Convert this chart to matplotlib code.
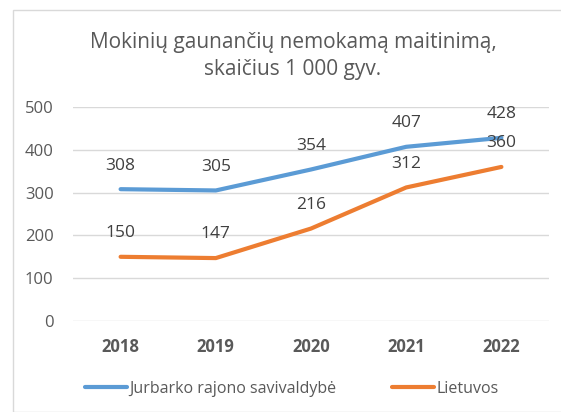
import matplotlib.pyplot as plt
from matplotlib.patches import Rectangle

years = ["2018", "2019", "2020", "2021", "2022"]
jurbarkas = [308, 305, 354, 407, 428]
lietuva = [150, 147, 216, 312, 360]

plt.rcParams['font.family'] = ['Open Sans', 'DejaVu Sans']

fig = plt.figure(figsize=(5.61, 4.12), dpi=100)
ax = fig.add_axes([73/561, 1-321/412, 476/561, 214/412])

# chart border
fig.patches.append(Rectangle((13/561, 0), 1, 1-10/412, transform=fig.transFigure,
                             fill=False, edgecolor="#d9d9d9", linewidth=1))

x = list(range(len(years)))
ax.plot(x, jurbarkas, color="#5B9BD5", linewidth=3, solid_capstyle="round",
        label="Jurbarko rajono savivaldybė")
ax.plot(x, lietuva, color="#ED7D31", linewidth=3, solid_capstyle="round",
        label="Lietuvos")

for xi, v in zip(x, jurbarkas):
    ax.annotate(str(v), (xi, v), xytext=(0, 17), textcoords="offset points",
                ha="center", va="center", fontsize=12.5, color="#404040")
for xi, v in zip(x, lietuva):
    ax.annotate(str(v), (xi, v), xytext=(0, 17), textcoords="offset points",
                ha="center", va="center", fontsize=12.5, color="#404040")

ax.set_xlim(-0.5, 4.5)
ax.set_ylim(0, 500)
ax.set_yticks([0, 100, 200, 300, 400, 500])
ax.set_xticks(x)
ax.set_xticklabels(years, fontweight="bold")
ax.tick_params(axis="both", length=0, labelsize=12, labelcolor="#595959")
ax.tick_params(axis="x", pad=12)
ax.tick_params(axis="y", pad=14)
ax.grid(axis="y", color="#d9d9d9", linewidth=1)
ax.set_axisbelow(True)
for s in ax.spines.values():
    s.set_visible(False)

fig.text(293/561, 1-56/412, "Mokinių gaunančių nemokamą maitinimą,\nskaičius 1 000 gyv.",
         ha="center", va="center", fontsize=15, color="#595959", linespacing=1.35)

ax.legend(loc="center", bbox_to_anchor=((292-73)/476, (389-321)/-214.0), ncol=2,
          frameon=False, fontsize=11.5, labelcolor="#595959", handlelength=2.6,
          handletextpad=0.15, columnspacing=3.5)

fig.savefig("out.png", dpi=100)
